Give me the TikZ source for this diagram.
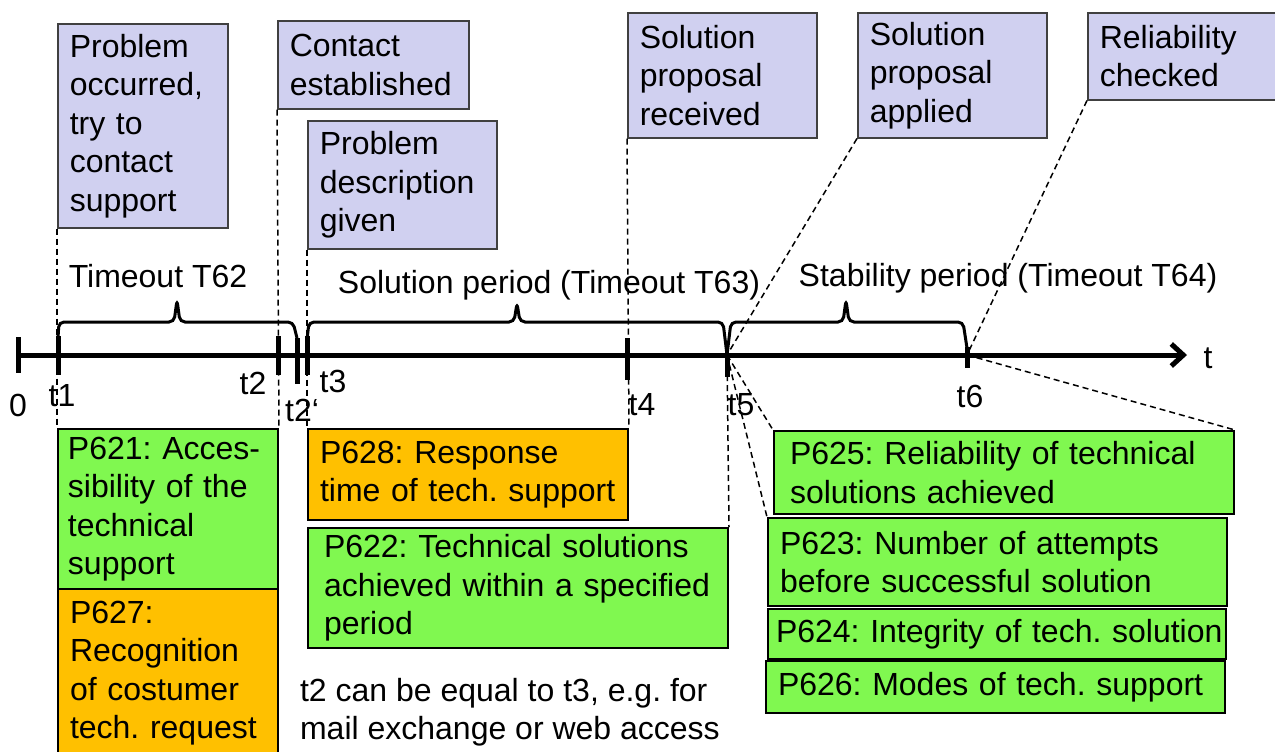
\documentclass[tikz,border=0pt]{standalone}
\usepackage{fontspec}
\setmainfont{Liberation Sans}
\usetikzlibrary{arrows.meta}
\definecolor{evfill}{RGB}{208,208,240}
\definecolor{kpigreen}{RGB}{128,248,80}
\definecolor{kpiorange}{RGB}{255,192,0}

\begin{document}
\begin{tikzpicture}[x=0.5pt,y=-0.5pt,
    every node/.style={font=\fontsize{16}{19.25}\selectfont\frenchspacing},
    event/.style={draw=black!75, line width=0.75pt, fill=evfill, anchor=north west, align=left, inner xsep=6pt, inner ysep=0pt},
    kpi/.style={draw=black, line width=1pt, fill=kpigreen, anchor=north west, align=left, inner xsep=6pt, inner ysep=0pt},
    kpio/.style={kpi, fill=kpiorange},
    link/.style={line width=0.75pt, dash pattern=on 3pt off 2pt},
    tick/.style={line width=2.5pt},
    brc/.style={line width=1.5pt, rounded corners=2.5pt}]
\useasboundingbox (0,0) rectangle (1275,751);

% events
\node[event, text width=73pt, minimum height=102pt] (occur) at (57,23) {Problem\\occurred,\\try to\\contact\\support};
\node[event, text width=83.5pt, minimum height=44pt] (contact) at (277,20) {Contact\\established};
\node[event, text width=82.5pt, minimum height=64pt] (descr) at (307,120) {Problem\\description\\given};
\node[event, text width=82.5pt, minimum height=62.5pt] (received) at (627,12) {Solution\\proposal\\received};
\node[event, text width=82.5pt, minimum height=62.5pt] (applied) at (857,12) {Solution\\proposal\\applied};
\node[event, text width=82pt, minimum height=43.5pt] (checked) at (1087,12) {Reliability\\checked};

% parameters
\node[kpi, inner xsep=5pt, text width=100pt, minimum height=80pt] (p621) at (57,428) {P621: Acces-\\sibility of the\\technical\\support};
\node[kpio, text width=98pt, minimum height=84pt] (p627) at (57,588) {P627:\\Recognition\\of costumer\\tech. request};
\node[kpio, text width=148pt, minimum height=45.5pt] (p628) at (307,428) {P628: Response\\time of tech. support};
\node[kpi, inner xsep=8pt, text width=194pt, minimum height=60pt] (p622) at (307,527) {P622: Technical solutions\\achieved within a specified\\period};
\node[kpi, inner xsep=8pt, text width=214pt, minimum height=41.5pt] (p625) at (773,430) {P625: Reliability of technical\\solutions achieved};
\node[kpi, text width=217.5pt, minimum height=44pt] (p623) at (767,517) {P623: Number of attempts\\before successful solution};
\node[kpi, inner xsep=4pt, text width=221pt, minimum height=25pt] (p624) at (767,608) {\mbox{P624: Integrity of tech. solution}};
\node[kpi, text width=217.5pt, minimum height=26pt] (p626) at (765,660) {P626: Modes of tech. support};

% time axis
\coordinate (t0) at (18,355);
\coordinate (t1) at (58,355);
\coordinate (t5) at (727,355);
\coordinate (t6) at (967,355);
\coordinate (tend) at (1187,355);

% dashed links
\draw[link] (occur.south west) -- (p621.north west);
\draw[link] (contact.south west) -- (p621.north east);
\draw[link] (descr.south west) -- (p628.north west);
\draw[link] (received.south west) -- (p628.north east);
\draw[link] (applied.south west) -- (t5);
\draw[link] (checked.south west) -- (t6);
\draw[link] (t5) -- (p622.north east);
\draw[link] (t5) -- (p625.north west);
\draw[link] (t5) -- (p623.north west);
\draw[link] (t6) -- (p625.north east);

\draw[line width=2.5pt, -{Straight Barb[length=6pt,width=11pt]}] (t0) -- (tend);
\foreach \x/\a/\b in {18/337/373, 58/336/375, 278/336/375, 297/338/384, 307/336/375, 627/338/380, 727/355/377, 967/347/368}
  \draw[tick] (\x,\a) -- (\x,\b);

% braces
\draw[brc] (58,338) -- (59,322) -- (174,322) -- (177,300) -- (180,322) -- (293,322) -- (297,338);
\draw[brc] (307,340) -- (309,322) -- (514,322) -- (517,303) -- (520,322) -- (723,322) -- (727,355);
\draw[brc] (727,355) -- (731,322) -- (843,322) -- (846,300) -- (849,322) -- (963,322) -- (967,348);
\node (lt62) at (158,276) {Timeout T62};
\node (lt63) at (549,285) {Solution period (Timeout T63)};
\node (lt64) at (1008,278) {Stability period (Timeout T64)};

% labels
\node (l0) at (18,405) {0};
\node (l1) at (62,396) {t1};
\node (l2) at (253,383) {t2};
\node (l2b) at (302,410) {t2‘};
\node (l3) at (333,381) {t3};
\node (l4) at (642,405) {t4};
\node (l5) at (741,405) {t5};
\node (l6) at (970,396) {t6};
\node (lt) at (1208,358) {t};

\node[align=left, anchor=west] (note) at (293,712) {t2 can be equal to t3, e.g. for\\mail exchange or web access};
\end{tikzpicture}
\end{document}
